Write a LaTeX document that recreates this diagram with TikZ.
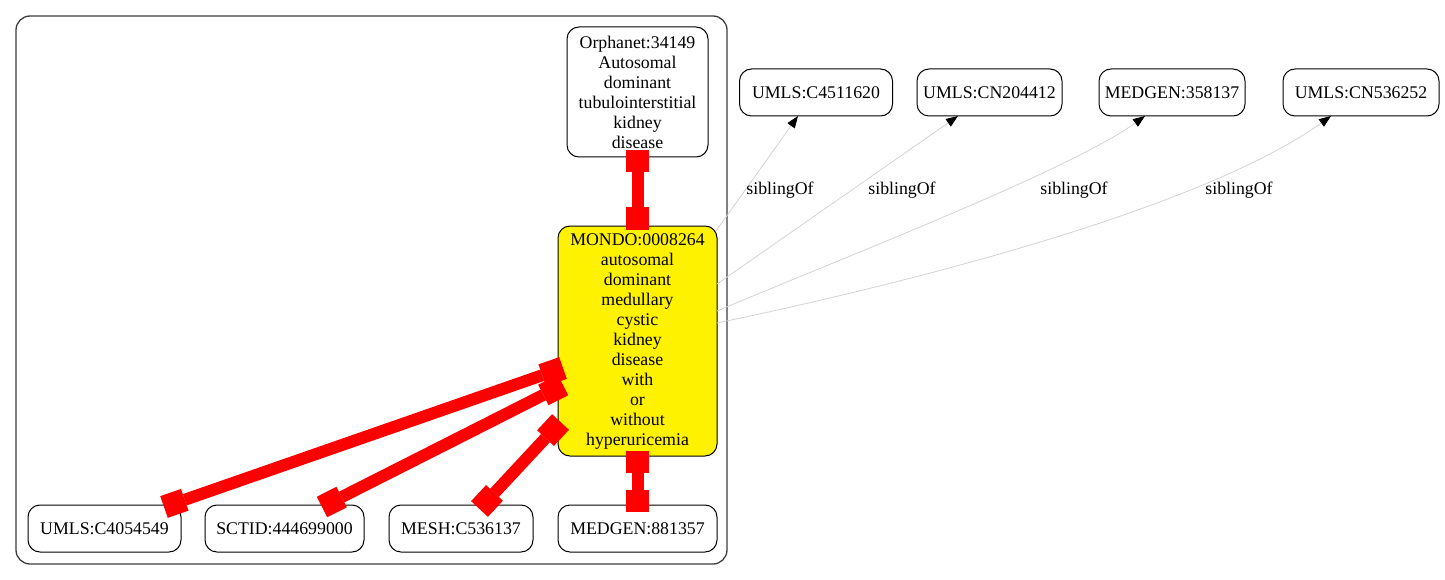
\documentclass[tikz,border=0pt]{standalone}
\usepackage{fontspec}
\setmainfont{Liberation Serif}
\usetikzlibrary{arrows.meta}
\definecolor{edgegray}{RGB}{211,211,211}
\definecolor{clustergray}{RGB}{60,60,60}
\begin{document}
\begin{tikzpicture}[x=1pt,y=-1pt,
  nbox/.style={draw=black, line width=1pt, rounded corners=12pt, inner sep=0pt, align=center,
    font=\fontsize{17.8}{20}\selectfont},
  lbl/.style={inner sep=0pt, font=\fontsize{17.8}{20}\selectfont},
  redlink/.style={draw=red, line width=12pt,
    {Square[length=22pt,width=23pt,line width=0pt]}-{Square[length=22pt,width=23pt,line width=0pt]}},
  sib/.style={draw=edgegray, line width=0.8pt, -{Triangle[length=12pt,width=9pt,color=black]}}
]
\useasboundingbox (0,0) rectangle (1445,580);
\draw[clustergray, line width=1.3pt, rounded corners=14pt] (16,16) rectangle (727,564);

\node[nbox, minimum width=141pt, minimum height=130pt] (orph) at (637.5,92)
  {Orphanet:34149\\Autosomal\\dominant\\tubulointerstitial\\kidney\\disease};
\node[nbox, fill=yellow, minimum width=159pt, minimum height=230pt] (mondo) at (637.5,341)
  {MONDO:0008264\\autosomal\\dominant\\medullary\\cystic\\kidney\\disease\\with\\or\\without\\hyperuricemia};
\node[nbox, minimum width=153pt, minimum height=47pt] (umlsA) at (104.5,528.5) {UMLS:C4054549};
\node[nbox, minimum width=159pt, minimum height=47pt] (sctid) at (284.5,528.5) {SCTID:444699000};
\node[nbox, minimum width=144pt, minimum height=47pt] (mesh) at (461,528.5) {MESH:C536137};
\node[nbox, minimum width=159pt, minimum height=47pt] (medgenA) at (637.5,528.5) {MEDGEN:881357};

\node[nbox, minimum width=153pt, minimum height=47pt] (umlsB) at (816,92.5) {UMLS:C4511620};
\node[nbox, minimum width=145pt, minimum height=47pt] (umlsC) at (989.5,92.5) {UMLS:CN204412};
\node[nbox, minimum width=146pt, minimum height=47pt] (medgenB) at (1172,92.5) {MEDGEN:358137};
\node[nbox, minimum width=156pt, minimum height=47pt] (umlsD) at (1361,92.5) {UMLS:CN536252};

% red links
\draw[redlink] ([yshift=7pt]orph.south) -- ([yshift=-4pt]mondo.north);
\draw[redlink] ([yshift=6pt]mondo.south) -- ([yshift=-7pt]medgenA.north);
\coordinate (m1) at (563,368);
\coordinate (u1) at (164,507);
\coordinate (m2) at (563,385);
\coordinate (s2) at (322,507);
\coordinate (m3) at (560.5,422);
\coordinate (h3) at (479.5,509);
\draw[redlink] (m1) -- (u1);
\draw[redlink] (m2) -- (s2);
\draw[redlink] (m3) -- (h3);

% siblingOf links
\coordinate (r1) at (716,231);
\coordinate (r2) at (717,284);
\coordinate (r3) at (717,311);
\coordinate (r4) at (717,323);
\coordinate (t1) at (798,116);
\coordinate (t2) at (958,116);
\coordinate (t3) at (1145,116);
\coordinate (t4) at (1331,116);
\draw[sib] (r1) -- (t1);
\draw[sib] (r2) -- (t2);
\draw[sib] (r3) .. controls (850,255) and (1070,170) .. (t3);
\draw[sib] (r4) .. controls (900,285) and (1200,210) .. (t4);
\node[lbl] (l1) at (780,190) {siblingOf};
\node[lbl] (l2) at (902,190) {siblingOf};
\node[lbl] (l3) at (1074,190) {siblingOf};
\node[lbl] (l4) at (1239,190) {siblingOf};
\end{tikzpicture}
\end{document}
